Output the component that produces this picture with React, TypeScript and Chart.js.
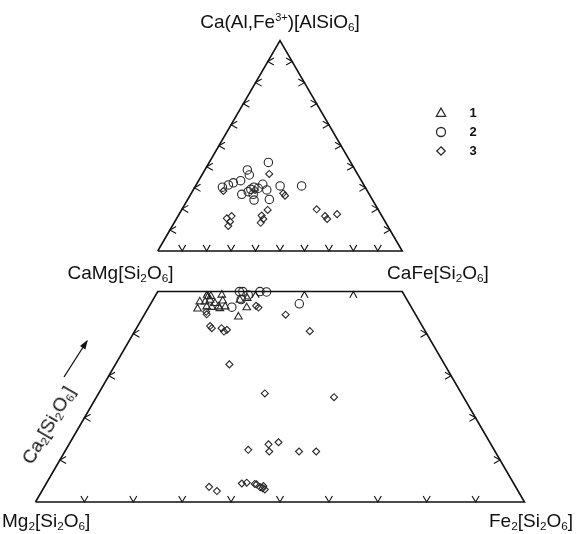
import React, { useEffect, useRef } from "react";
import { Chart, registerables } from "chart.js";

Chart.register(...registerables);

// ---------- data (percentages) ----------
// Pyroxene quadrilateral: Wo (Ca2Si2O6) and Fs (Fe2Si2O6) %
const S1_WO = [45.9, 47.6, 47.6, 46.4, 48.8, 48.0, 48.9, 47.2, 46.4, 49.2, 47.8, 46.4, 44.0, 46.2, 48.4, 48.0, 46.0, 46.3];
const S1_FS = [10.2, 9.8, 10.9, 11.8, 10.9, 11.7, 11.4, 13.1, 14.2, 13.5, 14.4, 15.6, 19.5, 20.1, 19.1, 17.8, 14.7, 12.9];

const S2Q_WO = [50.0, 50.0, 48.1, 46.3, 50.0, 49.9, 49.2, 47.1];
const S2Q_FS = [16.7, 17.4, 18.0, 17.0, 20.9, 22.3, 18.9, 30.4];

const S3Q_WO = [45.2, 44.6, 41.8, 41.3, 41.3, 40.5, 40.9, 46.6, 46.2, 44.5, 40.6, 32.7, 25.8, 24.9, 12.4, 13.7, 12.0, 14.2, 12.0, 12.0, 3.6, 2.6, 4.4, 4.6, 4.3, 4.2, 3.5, 3.8, 3.0, 3.3];
const S3Q_FS = [12.3, 12.7, 14.8, 15.4, 17.4, 18.3, 18.7, 21.8, 22.5, 28.9, 35.8, 23.3, 34.0, 48.6, 37.3, 40.8, 41.8, 42.6, 47.9, 51.4, 33.7, 35.8, 40.0, 40.9, 42.7, 43.1, 44.2, 44.7, 45.4, 44.8];

// Upper triangle: Ca-Tschermak (apex) and Hd (CaFe[Si2O6]) %
const S2T_A = [42.1, 38.5, 36.1, 33.4, 32.4, 31.4, 30.3, 26.9, 29.3, 30.3, 29.8, 31.7, 29.0, 26.9, 24.2, 24.5, 30.9, 30.9, 28.2];
const S2T_HD = [24.2, 17.4, 19.4, 17.2, 14.7, 13.2, 11.3, 20.9, 23.4, 24.2, 26.2, 27.1, 30.1, 25.6, 27.3, 33.4, 34.6, 43.4, 22.9];

const S3T_A = [36.6, 28.5, 27.4, 26.3, 19.5, 16.8, 15.2, 13.4, 16.6, 15.5, 13.9, 11.9, 19.8, 16.6, 15.2, 17.5, 29.0];
const S3T_HD = [27.3, 12.6, 37.6, 38.9, 35.2, 34.1, 35.6, 35.4, 21.9, 20.5, 22.6, 22.9, 55.1, 60.1, 61.7, 64.6, 25.3];

// tick values (%)
const QUAD_BASE_TICKS = [10, 20, 30, 40, 50, 60, 70, 80, 90];
const QUAD_SIDE_TICKS = [10, 20, 30, 40];
const QUAD_TOP_TICKS = [10, 20, 30, 40];
const TRI_TICKS = [10, 20, 30, 40, 50, 60, 70, 80, 90];

const LEGEND_LABELS = ["1", "2", "3"];

// ---------- geometry helpers ----------
const H = Math.sqrt(3) / 2;
const TRI_LIFT = 8.35; // gap between quadrilateral top and triangle base (chart units)
const TICK_LEN = 1.45;

type P = { x: number | null; y: number | null };
const quad = (wo: number, fs: number): P => ({ x: fs + wo / 2, y: H * wo });
const tri = (a: number, hd: number): P => ({ x: 25 + 0.5 * (hd + a / 2), y: H * 50 + TRI_LIFT + H * 0.5 * a });

const chevron = (p: P, a1: number, a2: number): P[] => {
  const r = Math.PI / 180;
  const px = p.x as number, py = p.y as number;
  return [
    { x: px + TICK_LEN * Math.cos(a1 * r), y: py + TICK_LEN * Math.sin(a1 * r) },
    { x: px, y: py },
    { x: px + TICK_LEN * Math.cos(a2 * r), y: py + TICK_LEN * Math.sin(a2 * r) },
    { x: null, y: null },
  ];
};

const FONT = '"Liberation Sans", Arial, Helvetica, sans-serif';

export default function App() {
  const ref = useRef<HTMLCanvasElement | null>(null);

  useEffect(() => {
    const canvas = ref.current;
    if (!canvas) return;

    const frame: P[] = [
      quad(0, 0), quad(0, 100), quad(50, 50), quad(50, 0), quad(0, 0), { x: null, y: null },
      tri(0, 0), tri(0, 100), tri(100, 0), tri(0, 0),
    ];

    const ticks: P[] = [];
    QUAD_BASE_TICKS.forEach((f) => ticks.push(...chevron(quad(0, f), 60, 120)));
    QUAD_TOP_TICKS.forEach((f) => ticks.push(...chevron(quad(50, f), 240, 300)));
    QUAD_SIDE_TICKS.forEach((w) => ticks.push(...chevron(quad(w, 0), 30, -30)));
    QUAD_SIDE_TICKS.forEach((w) => ticks.push(...chevron(quad(w, 100 - w), 150, 210)));
    TRI_TICKS.forEach((h) => ticks.push(...chevron(tri(0, h), 60, 120)));
    TRI_TICKS.forEach((a) => ticks.push(...chevron(tri(a, 0), 30, -30)));
    TRI_TICKS.forEach((a) => ticks.push(...chevron(tri(a, 100 - a), 150, 210)));

    const s1 = S1_WO.map((w, i) => quad(w, S1_FS[i]));
    const s2 = [...S2Q_WO.map((w, i) => quad(w, S2Q_FS[i])), ...S2T_A.map((a, i) => tri(a, S2T_HD[i]))];
    const s3 = [...S3Q_WO.map((w, i) => quad(w, S3Q_FS[i])), ...S3T_A.map((a, i) => tri(a, S3T_HD[i]))];

    const ink = "#2a2a2a";

    const overlay = {
      id: "overlay",
      afterDraw(chart: any) {
        const ctx = chart.ctx as CanvasRenderingContext2D;
        ctx.save();
        // arrow beside Ca2[Si2O6]
        const x0 = 64, y0 = 377, x1 = 87, y1 = 341;
        ctx.strokeStyle = "#111";
        ctx.fillStyle = "#111";
        ctx.lineWidth = 1.3;
        ctx.beginPath();
        ctx.moveTo(x0, y0);
        ctx.lineTo(x1, y1);
        ctx.stroke();
        const ang = Math.atan2(y1 - y0, x1 - x0);
        const L = 8, W = 3.2;
        ctx.beginPath();
        ctx.moveTo(x1 + 1.5 * Math.cos(ang), y1 + 1.5 * Math.sin(ang));
        ctx.lineTo(x1 - L * Math.cos(ang) + W * Math.sin(ang), y1 - L * Math.sin(ang) - W * Math.cos(ang));
        ctx.lineTo(x1 - L * Math.cos(ang) - W * Math.sin(ang), y1 - L * Math.sin(ang) + W * Math.cos(ang));
        ctx.closePath();
        ctx.fill();

        // legend
        const lx = 441, ly = [113, 132, 151];
        ctx.strokeStyle = ink;
        ctx.lineWidth = 1.3;
        ctx.beginPath();
        ctx.moveTo(lx, ly[0] - 5);
        ctx.lineTo(lx + 4.6, ly[0] + 3.3);
        ctx.lineTo(lx - 4.6, ly[0] + 3.3);
        ctx.closePath();
        ctx.stroke();
        ctx.beginPath();
        ctx.arc(lx, ly[1], 4.5, 0, Math.PI * 2);
        ctx.stroke();
        ctx.beginPath();
        ctx.moveTo(lx, ly[2] - 4.2);
        ctx.lineTo(lx + 4.2, ly[2]);
        ctx.lineTo(lx, ly[2] + 4.2);
        ctx.lineTo(lx - 4.2, ly[2]);
        ctx.closePath();
        ctx.stroke();
        ctx.fillStyle = "#111";
        ctx.font = `bold 13px ${FONT}`;
        ctx.textAlign = "center";
        ctx.textBaseline = "middle";
        LEGEND_LABELS.forEach((t, i) => ctx.fillText(t, 473, ly[i] + 0.5));
        ctx.restore();
      },
    };

    const chart = new Chart(canvas, {
      type: "scatter",
      data: {
        datasets: [
          {
            label: "frame",
            data: frame as any,
            showLine: true,
            spanGaps: false,
            borderColor: "#111",
            borderWidth: 1.6,
            pointRadius: 0,
            fill: false,
          },
          {
            label: "ticks",
            data: ticks as any,
            showLine: true,
            spanGaps: false,
            borderColor: "#111",
            borderWidth: 1.1,
            pointRadius: 0,
            fill: false,
          },
          {
            label: "1",
            data: s1 as any,
            pointStyle: "triangle",
            pointRadius: 4.4,
            borderColor: ink,
            borderWidth: 1.1,
            backgroundColor: "rgba(0,0,0,0)",
          },
          {
            label: "2",
            data: s2 as any,
            pointStyle: "circle",
            pointRadius: 4.2,
            borderColor: ink,
            borderWidth: 1.1,
            backgroundColor: "rgba(0,0,0,0)",
          },
          {
            label: "3",
            data: s3 as any,
            pointStyle: "rectRot",
            pointRadius: 3.5,
            borderColor: ink,
            borderWidth: 1.1,
            backgroundColor: "rgba(0,0,0,0)",
          },
        ],
      },
      options: {
        animation: false,
        responsive: false,
        events: [],
        layout: { padding: 0, autoPadding: false },
        scales: {
          x: { type: "linear", min: -7.26, max: 110.74, display: false },
          y: { type: "linear", min: -6.58, max: 103.29, display: false },
        },
        plugins: { legend: { display: false }, tooltip: { enabled: false } },
      },
      plugins: [overlay],
    });

    return () => chart.destroy();
  }, []);

  const lab: React.CSSProperties = {
    position: "absolute",
    fontFamily: FONT,
    fontSize: 19,
    lineHeight: "19px",
    whiteSpace: "nowrap",
    color: "#111",
  };
  const sub: React.CSSProperties = { fontSize: "0.62em", lineHeight: 0, verticalAlign: "-0.28em" };
  const sup: React.CSSProperties = { fontSize: "0.58em", lineHeight: 0, verticalAlign: "0.62em" };
  const top = (baseline: number) => baseline - 16;

  return (
    <div style={{ position: "relative", width: 577, height: 534, background: "#fff", overflow: "hidden" }}>
      <style>{`body{margin:0;background:#fff}`}</style>
      <canvas ref={ref} width={577} height={534} style={{ display: "block", width: 577, height: 534 }} />
      <div style={{ ...lab, left: 280, top: top(28), transform: "translateX(-50%)" }}>
        Ca(Al,Fe<span style={sup}>3+</span>)[AlSiO<span style={sub}>6</span>]
      </div>
      <div style={{ ...lab, left: 120.5, top: top(279), transform: "translateX(-50%)" }}>
        CaMg[Si<span style={sub}>2</span>O<span style={sub}>6</span>]
      </div>
      <div style={{ ...lab, left: 438, top: top(279), transform: "translateX(-50%)" }}>
        CaFe[Si<span style={sub}>2</span>O<span style={sub}>6</span>]
      </div>
      <div style={{ ...lab, left: 2, top: top(527) }}>
        Mg<span style={sub}>2</span>[Si<span style={sub}>2</span>O<span style={sub}>6</span>]
      </div>
      <div style={{ ...lab, left: 489, top: top(527) }}>
        Fe<span style={sub}>2</span>[Si<span style={sub}>2</span>O<span style={sub}>6</span>]
      </div>
      <div
        style={{
          ...lab,
          left: 48,
          top: 425,
          transform: "translate(-50%, -50%) rotate(-60deg)",
        }}
      >
        Ca<span style={sub}>2</span>[Si<span style={sub}>2</span>O<span style={sub}>6</span>]
      </div>
    </div>
  );
}
